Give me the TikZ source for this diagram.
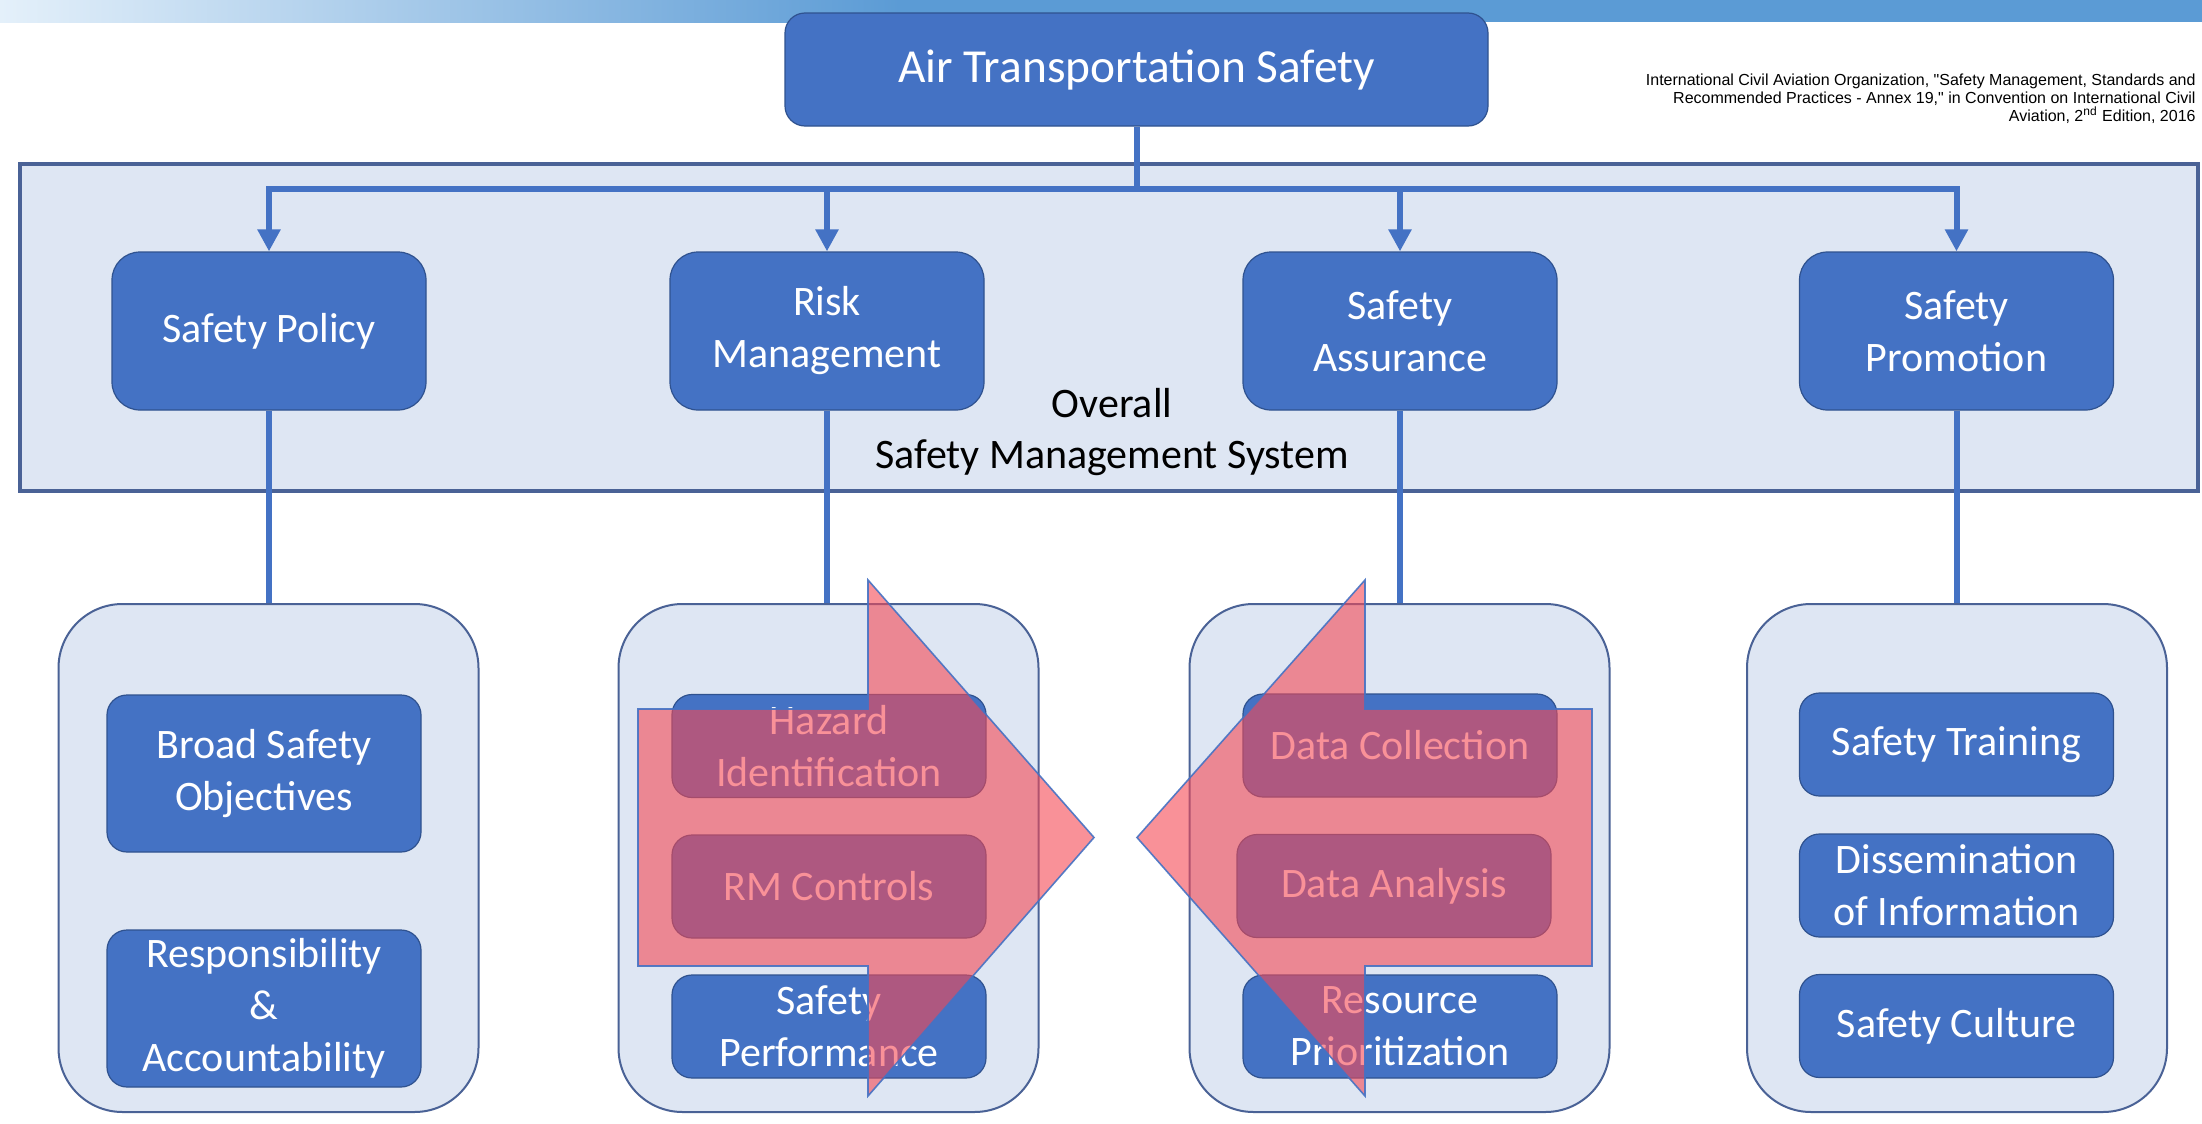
\documentclass[tikz,border=0pt]{standalone}
\usepackage{fontspec}
\setmainfont{Carlito}
\newfontfamily\citefont{Liberation Sans}
\usetikzlibrary{arrows.meta,calc}
\definecolor{accent}{RGB}{68,114,196}
\definecolor{boxline}{RGB}{47,82,143}
\definecolor{lightbg}{RGB}{222,230,243}
\definecolor{frameline}{RGB}{74,98,150}
\definecolor{barblue}{RGB}{91,155,213}
\definecolor{barpale}{RGB}{228,240,250}
\definecolor{arrowpink}{RGB}{245,72,84}
\begin{document}
\begin{tikzpicture}[x=0.5pt,y=-0.5pt,
  bluebox/.style={draw=boxline, line width=0.6pt, fill=accent, rounded corners=14pt, text=white,
    font=\fontsize{21}{26}\selectfont, align=center, inner sep=0pt, minimum width=157pt},
  topbox/.style={bluebox, minimum height=79pt},
  innerbox/.style={bluebox, rounded corners=10pt, minimum height=51.5pt},
  tallbox/.style={bluebox, rounded corners=10pt, minimum height=78.5pt},
  holder/.style={draw=frameline, line width=1pt, fill=lightbg, rounded corners=32pt,
    minimum width=210pt, minimum height=254pt, inner sep=0pt},
  conn/.style={draw=accent, line width=3pt},
  arr/.style={conn, -{Triangle[width=11pt,length=11pt]}},
  bigarrow/.style={fill=arrowpink, fill opacity=0.6, draw=accent, line width=0.8pt, draw opacity=0.9, line join=miter}
]
% canvas
\fill[white] (0,0) rectangle (2202,1124);
\useasboundingbox (0,0) rectangle (2202,1124);
% top bar
\shade[left color=barpale, right color=barblue] (0,0) rectangle (900,22);
\fill[barblue] (899,0) rectangle (2202,22);

% overall frame
\node[draw=frameline, line width=1.6pt, fill=lightbg, minimum width=1089pt, minimum height=163.5pt, inner sep=0pt] (frame) at (1109,327.5) {};
\node[font=\fontsize{21}{25.5}\selectfont, align=center, inner sep=0pt] (ovl) at (1112,432) {Overall\\Safety Management System};

% title box
\node[bluebox, rounded corners=10pt, minimum width=351.5pt, minimum height=56.5pt, font=\fontsize{23.7}{28}\selectfont] (air) at (1136.5,69.5) {Air Transportation Safety};

% top boxes
\node[topbox] (sp) at (269,331) {Safety Policy};
\node[topbox] (rm) at (827,331) {Risk\\Management};
\node[topbox] (sa) at (1400,331) {Safety\\Assurance};
\node[topbox] (pr) at (1956.5,331) {Safety\\Promotion};

% bus connectors
\path (air.south) ++(0,62) coordinate (bus);
\draw[arr] (air.south) -- (bus) -| (sp.north);
\draw[arr] (bus) -| (rm.north);
\draw[arr] (bus) -| (sa.north);
\draw[arr] (bus) -| (pr.north);

% containers
\node[holder] (spc) at (268.5,858) {};
\node[holder] (rmc) at (828.5,858) {};
\node[holder] (sac) at (1399.5,858) {};
\node[holder] (prc) at (1957,858) {};

\draw[conn] (sp.south) -- (sp.south |- spc.north);
\draw[conn] (rm.south) -- (rm.south |- rmc.north);
\draw[conn] (sa.south) -- (sa.south |- sac.north);
\draw[conn] (pr.south) -- (pr.south |- prc.north);

% inner boxes
\node[tallbox] (bso) at (264,773.5) {Broad Safety\\Objectives};
\node[tallbox] (rac) at (264,1008.5) {Responsibility\\\&\\Accountability};

\node[innerbox] (hid) at (829,746) {Hazard\\Identification};
\node[innerbox] (rmk) at (829,886.5) {RM Controls};
\node[innerbox] (spf) at (829,1026.5) {Safety\\Performance};

\node[innerbox] (dco) at (1400,745.5) {Data Collection};
\node[innerbox] (dan) at (1394,886) {Data Analysis};
\node[innerbox] (rpr) at (1400,1026.5) {Resource\\Prioritization};

\node[innerbox] (str) at (1956.5,744.5) {Safety Training};
\node[innerbox] (dis) at (1956.5,885.5) {Dissemination\\of Information};
\node[innerbox] (scu) at (1956.5,1026) {Safety Culture};

% big translucent arrows
\draw[bigarrow] (638,709) -- (868,709) -- (868,580) -- (1094,837.5) -- (868,1096) -- (868,966) -- (638,966) -- cycle;
\draw[bigarrow] (1592,709) -- (1365,709) -- (1365,580) -- (1137,837.5) -- (1365,1096) -- (1365,966) -- (1592,966) -- cycle;

% citation
\node[anchor=north east, align=right, inner sep=0pt, font=\citefont\fontsize{8}{8.8}\selectfont] (cite) at (2196,74)
  {International Civil Aviation Organization, "Safety Management, Standards and\\
   Recommended Practices - Annex 19," in Convention on International Civil\\
   Aviation, 2\textsuperscript{nd} Edition, 2016};
\end{tikzpicture}
\end{document}
